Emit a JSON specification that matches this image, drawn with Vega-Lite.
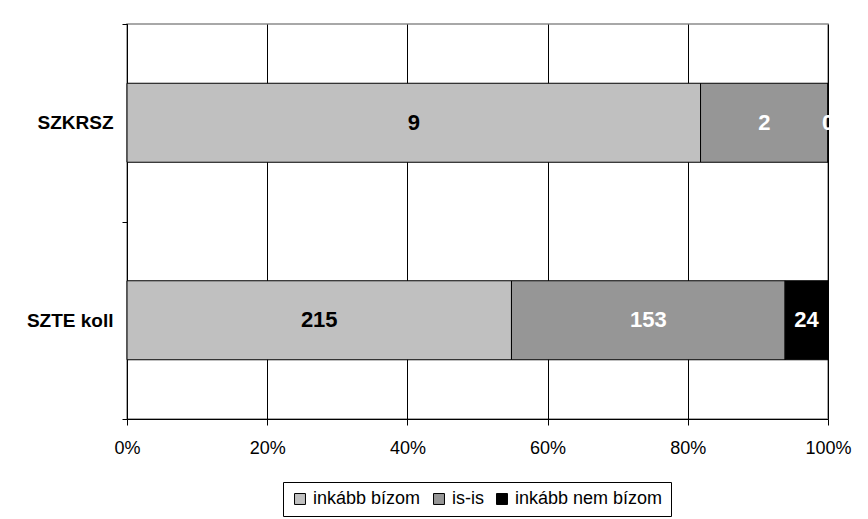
{
  "$schema": "https://vega.github.io/schema/vega-lite/v6.json",
  "autosize": {"type": "none"},
  "padding": {"left": 127, "top": 24, "right": 40, "bottom": 100},
  "width": 701,
  "height": 395,
  "background": "white",
  "config": {
    "font": "Liberation Sans",
    "view": {"stroke": "#8c8c8c", "strokeWidth": 1.5}
  },
  "data": {
    "values": [
      {"group": "SZKRSZ", "answer": "inkább bízom", "order": 1, "count": 9},
      {"group": "SZKRSZ", "answer": "is-is", "order": 2, "count": 2},
      {"group": "SZKRSZ", "answer": "inkább nem bízom", "order": 3, "count": 0},
      {"group": "SZTE koll", "answer": "inkább bízom", "order": 1, "count": 215},
      {"group": "SZTE koll", "answer": "is-is", "order": 2, "count": 153},
      {"group": "SZTE koll", "answer": "inkább nem bízom", "order": 3, "count": 24}
    ]
  },
  "encoding": {
    "y": {
      "field": "group",
      "type": "nominal",
      "sort": null,
      "title": null,
      "scale": {"paddingInner": 0, "paddingOuter": 0},
      "axis": {
        "tickBand": "extent",
        "tickSize": 5,
        "tickColor": "black",
        "domainColor": "black",
        "labelFont": "Liberation Sans",
        "labelFontWeight": "bold",
        "labelFontSize": 19,
        "labelColor": "black",
        "labelPadding": 9,
        "grid": false
      }
    }
  },
  "layer": [
    {
      "mark": {"type": "bar", "height": {"band": 0.4}, "stroke": "black", "strokeWidth": 1},
      "encoding": {
        "x": {
          "field": "count",
          "type": "quantitative",
          "stack": "normalize",
          "title": null,
          "scale": {"domain": [0, 1]},
          "axis": {
            "values": [0, 0.2, 0.4, 0.6, 0.8, 1],
            "format": "%",
            "grid": true,
            "gridColor": "black",
            "gridOpacity": 1,
            "domainColor": "black",
            "tickColor": "black",
            "tickSize": 6,
            "labelFont": "Liberation Sans",
            "labelFontSize": 18,
            "labelColor": "black",
            "labelPadding": 14,
            "labelFlush": false
          }
        },
        "color": {
          "field": "answer",
          "type": "nominal",
          "sort": ["inkább bízom", "is-is", "inkább nem bízom"],
          "scale": {
            "domain": ["inkább bízom", "is-is", "inkább nem bízom"],
            "range": ["#C0C0C0", "#969696", "#000000"]
          },
          "legend": {
            "title": null,
            "orient": "none",
            "legendX": 156,
            "legendY": 458,
            "direction": "horizontal",
            "symbolType": "square",
            "symbolSize": 120,
            "symbolStrokeColor": "black",
            "symbolStrokeWidth": 1,
            "labelFont": "Liberation Sans",
            "labelFontSize": 18,
            "labelColor": "black",
            "labelOffset": 4,
            "columnPadding": 9,
            "padding": 8,
            "strokeColor": "black",
            "fillColor": "white"
          }
        },
        "order": {"field": "order", "type": "quantitative"}
      }
    },
    {
      "mark": {"type": "text", "font": "Liberation Sans", "fontWeight": "bold", "fontSize": 22, "baseline": "middle", "align": "center"},
      "encoding": {
        "x": {"field": "count", "type": "quantitative", "stack": "normalize", "bandPosition": 0.5},
        "detail": {"field": "answer", "type": "nominal"},
        "order": {"field": "order", "type": "quantitative"},
        "text": {"field": "count", "type": "quantitative"},
        "color": {
          "condition": {"test": "datum.answer === 'inkább bízom'", "value": "black"},
          "value": "white"
        }
      }
    }
  ]
}
